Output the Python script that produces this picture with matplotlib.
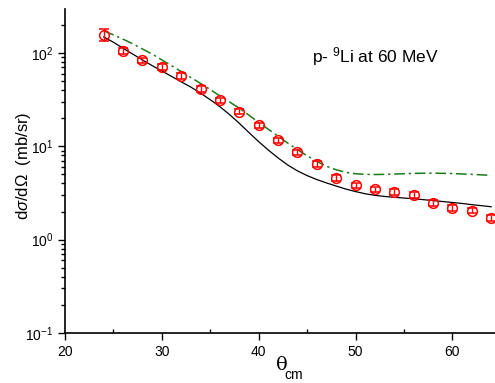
import matplotlib
matplotlib.use("Agg")
import matplotlib.pyplot as plt
from matplotlib.ticker import LogLocator, MultipleLocator, NullFormatter
import numpy as np

plt.rcParams['font.family'] = ['Liberation Sans', 'DejaVu Sans']
plt.rcParams['mathtext.fontset'] = 'custom'
plt.rcParams['mathtext.rm'] = 'Liberation Sans'
plt.rcParams['mathtext.it'] = 'Liberation Sans:italic'

# measured data (red circles)
theta_exp = [24, 26, 28, 30, 32, 34, 36, 38, 40, 42, 44, 46, 48, 50, 52, 54, 56, 58, 60, 62, 64]
xs_exp = [157, 105, 83, 71, 57, 41.5, 31, 23.5, 16.8, 11.6, 8.6, 6.46, 4.57, 3.82, 3.46,
          3.24, 3.0, 2.47, 2.2, 2.05, 1.72]
err_exp = [22, 8, 6, 5, 4, 3, 2.2, 1.6, 1.1, 0.8, 0.6, 0.45, 0.32, 0.27, 0.24,
           0.22, 0.21, 0.17, 0.15, 0.14, 0.12]

theta_calc = list(range(24, 65))
xs_black = [148, 130, 112, 97, 84, 73, 64, 56, 49, 43, 37, 31.5, 26.5, 21.8, 17.6, 14,
            11.2, 9.1, 7.5, 6.3, 5.45, 4.85, 4.4, 4.05, 3.75, 3.48, 3.27, 3.1, 2.98, 2.9,
            2.84, 2.79, 2.74, 2.68, 2.62, 2.56, 2.5, 2.44, 2.37, 2.31, 2.25]
xs_green = [172, 156, 140, 125, 110, 97, 84, 73, 63, 54.5, 47, 40.5, 34.5, 29.8, 25.5, 21.5,
            18, 15.2, 12.8, 10.8, 9.2, 7.9, 6.9, 6.1, 5.6, 5.25, 5.08, 5.0, 4.98, 5.0,
            5.04, 5.08, 5.12, 5.14, 5.15, 5.13, 5.1, 5.05, 5.0, 4.94, 4.88]

fig = plt.figure(figsize=(4.95, 3.83), dpi=100)
ax = fig.add_axes([0.1313, 0.1305, 0.8687, 0.846])

ax.plot(theta_calc, xs_black, color='black', lw=0.9)
ax.plot(theta_calc, xs_green, color='#1a7a1a', lw=1.1, dashes=(7, 2.5, 1.5, 2.5))
ax.errorbar(theta_exp, xs_exp, yerr=err_exp, fmt='o', mfc='none', mec='red', ecolor='red',
            ms=7, mew=1.1, elinewidth=1.0, capsize=3.5, capthick=1.0)

ax.set_yscale('log')
ax.set_xlim(20, 64.4)
ax.set_ylim(0.1, 295)

ax.xaxis.set_major_locator(MultipleLocator(10))
ax.xaxis.set_minor_locator(MultipleLocator(5))
ax.yaxis.set_major_locator(LogLocator(base=10, numticks=10))
ax.yaxis.set_minor_locator(LogLocator(base=10, subs=np.arange(2, 10), numticks=10))
ax.yaxis.set_minor_formatter(NullFormatter())

ax.tick_params(axis='both', which='major', direction='out', length=5, width=1.0, labelsize=10)
ax.tick_params(axis='x', which='minor', direction='in', length=3, width=1.0)
ax.tick_params(axis='y', which='minor', direction='out', length=3, width=1.0)

for s in ['top', 'right']:
    ax.spines[s].set_visible(False)
for s in ['left', 'bottom']:
    ax.spines[s].set_linewidth(1.2)

ax.set_ylabel(r'd$\sigma$/d$\Omega$  (mb/sr)', fontsize=12, labelpad=1)
ax.yaxis.set_label_coords(-0.075, 0.515)

# x label: upright theta with "cm" subscript
fig.text(282 / 495, 1 - 365 / 383, 'θ', family='DejaVu Serif', fontsize=14,
         ha='center', va='center')
fig.text(294 / 495, 1 - 375 / 383, 'cm', fontsize=10, ha='center', va='center')

ax.text(0.723, 0.852, r'p- $^{9}$Li at 60 MeV', transform=ax.transAxes, fontsize=12.5,
        ha='center', va='center')

fig.savefig('out.png', dpi=100)
